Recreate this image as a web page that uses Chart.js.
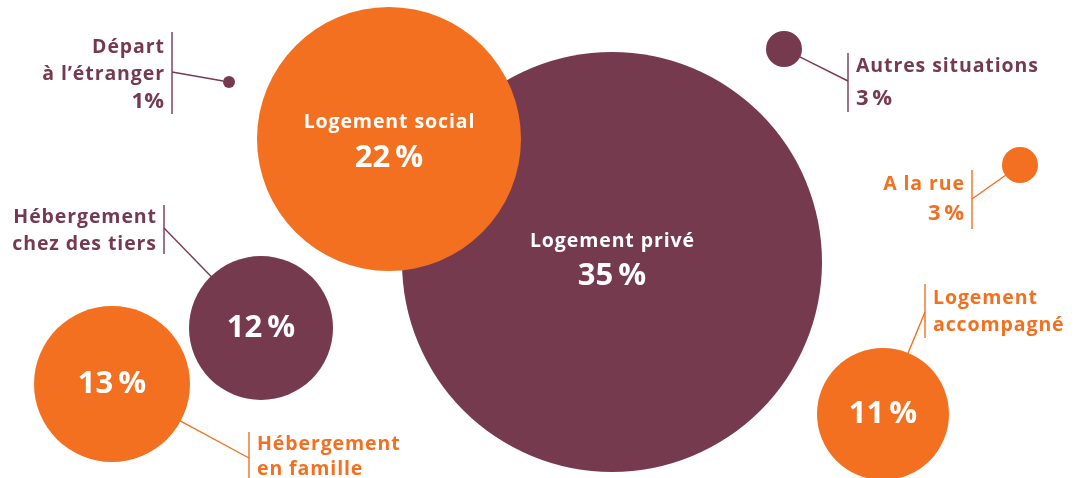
<!DOCTYPE html>
<html>
<head>
<meta charset="utf-8">
<script src="https://cdn.jsdelivr.net/npm/chart.js@4/dist/chart.umd.min.js"></script>
<style>
html,body{margin:0;padding:0;background:#fff;}
#wrap{width:1085px;height:478px;position:relative;}
</style>
</head>
<body>
<div id="wrap"><canvas id="c" width="1085" height="478"></canvas></div>
<script>
// ---- data ----
const categories = ["Logement privé","Logement social","Hébergement chez des tiers","Hébergement en famille","Logement accompagné","Autres situations","A la rue","Départ à l’étranger"];
const shares = [35, 22, 12, 13, 11, 3, 3, 1];
const groups = ["purple","orange","purple","orange","orange","purple","orange","purple"];
const bubbleX = [612, 389, 261, 112, 883, 784, 1020, 229];
const bubbleY = [262, 139, 328, 384, 414, 49, 165, 82];

const PURPLE = "#763A4F", ORANGE = "#F37021";
const FONT = "'Open Sans', Lato, sans-serif";
const colorOf = g => g === "purple" ? PURPLE : ORANGE;
const pct = (v, thin) => thin ? v + "\u2009%" : v + "%";

// radius scale (px per percentage point)
const RADIUS_PER_POINT = 6.0;

const data = {
  datasets: [{
    data: categories.map((c, i) => ({x: bubbleX[i], y: bubbleY[i], v: shares[i]})),
    backgroundColor: groups.map(colorOf),
    borderWidth: 0,
    hoverBorderWidth: 0,
    radius: ctx => ctx.raw.v * RADIUS_PER_POINT,
    hoverRadius: 0
  }]
};

// label layout (index -> callout description)
const callouts = {
  0: {inside: true, lines: ["Logement privé"], dy: [-21, 14], big: 31},
  1: {inside: true, lines: ["Logement social"], dy: [-17, 19], big: 31},
  2: {inside: true, lines: [], dy: [0], big: 31,
      ext: {bar: 164, top: 205, bottom: 254, joint: 228, align: "right", lines: ["Hébergement", "chez des tiers"], ly: [217, 244]}},
  3: {inside: true, lines: [], dy: [0], big: 31,
      ext: {bar: 249, top: 432, bottom: 478, joint: 458, align: "left", lines: ["Hébergement", "en famille"], ly: [444, 469]}},
  4: {inside: true, lines: [], dy: [0], big: 31,
      ext: {bar: 925, top: 284, bottom: 338, joint: 312, align: "left", lines: ["Logement", "accompagné"], ly: [298, 325]}},
  5: {inside: false,
      ext: {bar: 848, top: 53, bottom: 112, joint: 81, align: "left", lines: ["Autres situations", "%"], ly: [66, 99]}},
  6: {inside: false,
      ext: {bar: 972, top: 170, bottom: 229, joint: 199, align: "right", lines: ["A la rue", "%"], ly: [184, 214]}},
  7: {inside: false,
      ext: {bar: 172, top: 32, bottom: 114, joint: 72, align: "right", lines: ["Départ", "à l’étranger", "%"], ly: [47, 74, 102]}}
};

function drawText(ctx, txt, x, y, align, spacing) {
  // manual letter spacing for consistent rendering
  if (!spacing) { ctx.textAlign = align; ctx.fillText(txt, x, y); return; }
  const chars = Array.from(txt);
  const widths = chars.map(ch => ctx.measureText(ch).width);
  const total = ctx.measureText(txt).width + spacing * (chars.length - 1);
  let sx = align === "left" ? x : align === "right" ? x - total : x - total / 2;
  ctx.textAlign = "left";
  // use kerning-aware advance: measure prefix widths
  for (let k = 0; k < chars.length; k++) {
    const prefix = ctx.measureText(chars.slice(0, k).join("")).width;
    ctx.fillText(chars[k], sx + prefix + spacing * k, y);
  }
}

const labelPlugin = {
  id: "labels",
  afterDatasetsDraw(chart) {
    const ctx = chart.ctx;
    const meta = chart.getDatasetMeta(0);
    ctx.save();
    ctx.textBaseline = "middle";
    meta.data.forEach((el, i) => {
      const c = callouts[i];
      const v = shares[i];
      const col = colorOf(groups[i]);
      const r = v * RADIUS_PER_POINT;
      if (c.inside) {
        ctx.fillStyle = "#fff";
        let k = 0;
        c.lines.forEach(t => {
          ctx.font = "700 19.5px " + FONT;
          drawText(ctx, t, el.x, el.y + c.dy[k++], "center", 0.9);
        });
        ctx.font = "700 " + c.big + "px " + FONT;
        drawText(ctx, pct(v, true), el.x, el.y + c.dy[k], "center", 0);
      }
      if (c.ext) {
        const e = c.ext;
        ctx.strokeStyle = col;
        ctx.lineWidth = 1.4;
        ctx.beginPath();
        ctx.moveTo(e.bar, e.top);
        ctx.lineTo(e.bar, e.bottom);
        ctx.stroke();
        // leader from bar joint to circle edge
        const dx = e.bar - el.x, dy = e.joint - el.y;
        const d = Math.hypot(dx, dy);
        ctx.beginPath();
        ctx.moveTo(e.bar, e.joint);
        ctx.lineTo(el.x + dx / d * r * 0.98, el.y + dy / d * r * 0.98);
        ctx.stroke();
        ctx.fillStyle = col;
        const tx = e.align === "left" ? e.bar + 8 : e.bar - 8;
        e.lines.forEach((t, k) => {
          let txt = t;
          const isPct = t === "%";
          if (isPct) txt = (i === 7) ? pct(v, false) : pct(v, true);
          ctx.font = "700 " + (isPct ? 22 : 19.5) + "px " + FONT;
          drawText(ctx, txt, tx, e.ly[k], e.align, isPct ? 0 : 0.9);
        });
      }
    });
    ctx.restore();
  }
};

new Chart(document.getElementById("c"), {
  type: "bubble",
  data,
  options: {
    responsive: false,
    animation: false,
    events: [],
    layout: {padding: 0, autoPadding: false},
    clip: false,
    plugins: {legend: {display: false}, tooltip: {enabled: false}},
    scales: {
      x: {type: "linear", min: 0, max: 1085, display: false},
      y: {type: "linear", min: 0, max: 478, reverse: true, display: false}
    }
  },
  plugins: [labelPlugin]
});
</script>
</body>
</html>
